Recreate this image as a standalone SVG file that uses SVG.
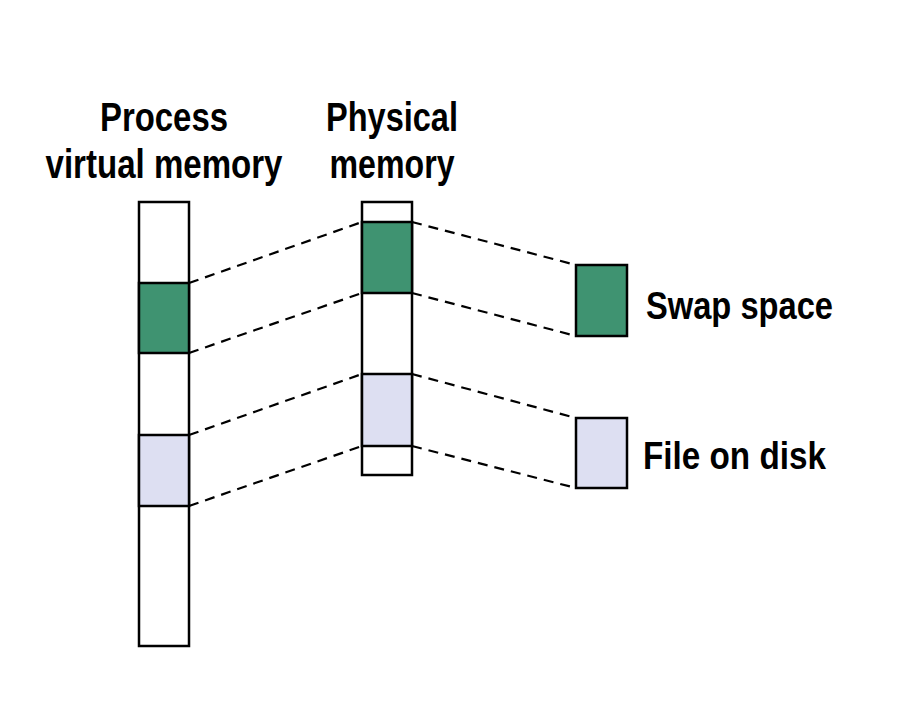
<svg xmlns="http://www.w3.org/2000/svg" width="920" height="710" viewBox="0 0 920 710">
<style>
.box{stroke:#000;stroke-width:2.5}
.w{fill:#fff}
.g{fill:#3f9371}
.p{fill:#dddff2}
.dash{stroke:#000;stroke-width:2.2;stroke-dasharray:10,7;fill:none}
.t{font-family:"Liberation Sans",Arial,sans-serif;font-weight:bold;fill:#000}
.h{font-size:40px;text-anchor:middle}
.l{font-size:38px}
</style>
<rect width="920" height="710" fill="#fff"/>
<g id="labels">
<text class="t h" x="164" y="131" textLength="128" lengthAdjust="spacingAndGlyphs">Process</text>
<text class="t h" x="164" y="178" textLength="237" lengthAdjust="spacingAndGlyphs">virtual memory</text>
<text class="t h" x="392" y="131" textLength="132" lengthAdjust="spacingAndGlyphs">Physical</text>
<text class="t h" x="392" y="178" textLength="125" lengthAdjust="spacingAndGlyphs">memory</text>
</g>
<g id="connectors">
<line class="dash" x1="189" y1="283" x2="362" y2="222"/>
<line class="dash" x1="189" y1="353" x2="362" y2="293"/>
<line class="dash" x1="189" y1="435" x2="362" y2="374"/>
<line class="dash" x1="189" y1="506" x2="362" y2="446"/>
<line class="dash" x1="412" y1="222" x2="576" y2="265"/>
<line class="dash" x1="412" y1="293" x2="576" y2="336"/>
<line class="dash" x1="412" y1="374" x2="576" y2="418"/>
<line class="dash" x1="412" y1="446" x2="576" y2="488"/>
</g>
<g id="virtual-memory">
<rect class="box w" x="139" y="202" width="50" height="444"/>
<rect class="box g" x="139" y="283" width="50" height="70"/>
<rect class="box p" x="139" y="435" width="50" height="71"/>
</g>
<g id="physical-memory">
<rect class="box w" x="362" y="202" width="50" height="273"/>
<rect class="box g" x="362" y="222" width="50" height="71"/>
<rect class="box p" x="362" y="374" width="50" height="72"/>
</g>
<g id="swap-space">
<rect class="box g" x="576" y="265" width="51" height="71"/>
<text class="t l" x="646" y="319" textLength="187" lengthAdjust="spacingAndGlyphs">Swap space</text>
</g>
<g id="file-on-disk">
<rect class="box p" x="576" y="418" width="51" height="70"/>
<text class="t l" x="643" y="469" textLength="183" lengthAdjust="spacingAndGlyphs">File on disk</text>
</g>
</svg>
